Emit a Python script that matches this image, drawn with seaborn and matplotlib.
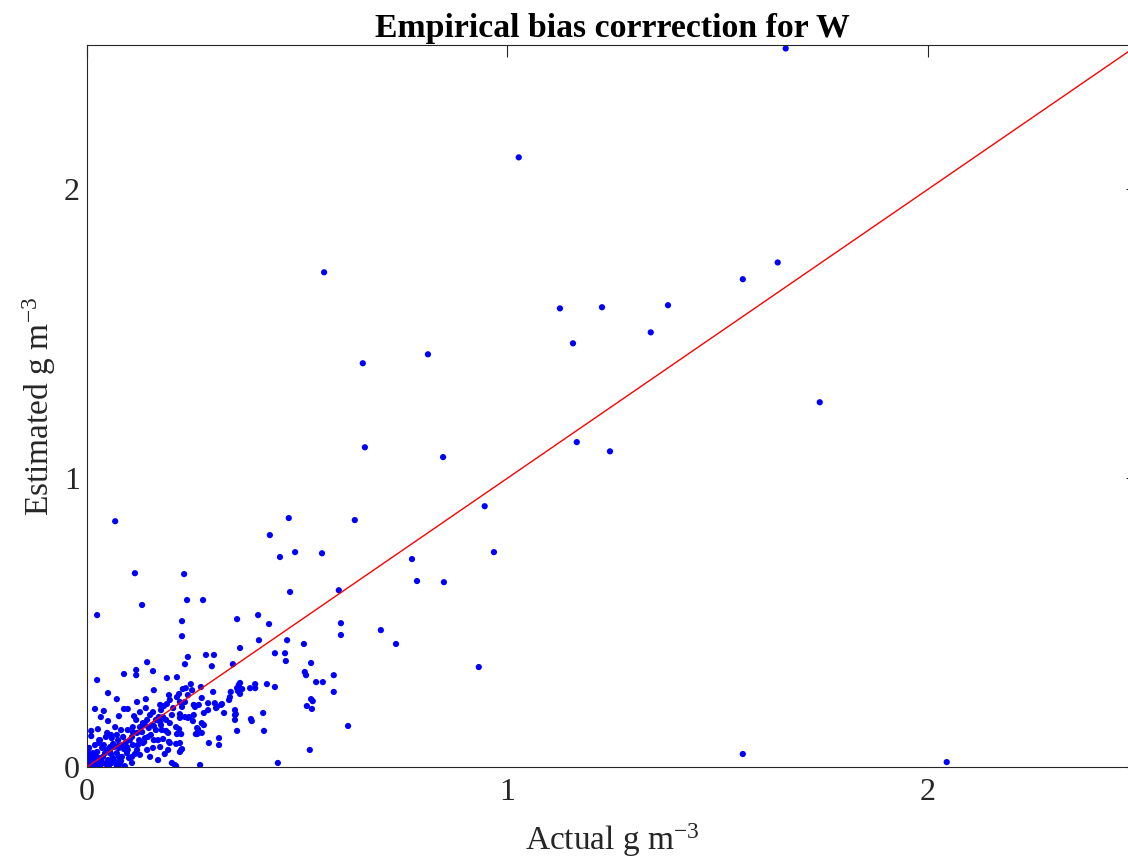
import matplotlib
matplotlib.use("Agg")
import matplotlib.pyplot as plt
import numpy as np
import pandas as pd
import seaborn as sns

# Actual vs. estimated W (g m^-3) for each sample
actual = [
    1.662, 1.027, 0.564, 1.643, 1.560, 1.125, 1.225, 1.382, 1.341, 1.156,
    0.811, 0.656, 1.743, 1.165, 0.661, 1.244, 0.847, 0.067, 0.480, 0.637,
    0.946, 0.435, 0.495, 0.459, 0.559, 0.968, 0.773, 0.114, 0.231, 0.785,
    0.849, 0.599, 0.483, 0.238, 0.276, 0.131, 0.024, 0.407, 0.357, 0.226,
    0.226, 0.433, 0.604, 0.604, 0.699, 0.735, 0.932, 0.621, 0.530, 0.454,
    1.560, 2.045,
    0.364, 0.409, 0.476, 0.240, 0.283, 0.302, 0.233, 0.143, 0.024, 0.088,
    0.117, 0.117, 0.157, 0.190, 0.214, 0.297, 0.347, 0.447, 0.471, 0.473,
    0.516, 0.533, 0.518, 0.521, 0.545, 0.561, 0.587, 0.587, 0.533, 0.537,
    0.523, 0.535, 0.447, 0.428, 0.400, 0.400, 0.388, 0.364, 0.361, 0.357,
    0.342, 0.340, 0.338, 0.321, 0.326, 0.352, 0.352, 0.352, 0.390, 0.392,
    0.419, 0.421, 0.357, 0.314, 0.314, 0.290, 0.269, 0.309, 0.300, 0.288,
    0.273, 0.271, 0.254, 0.257, 0.254, 0.262, 0.262, 0.273, 0.278, 0.252,
    0.240, 0.233, 0.221, 0.221, 0.226, 0.233, 0.221, 0.214, 0.195, 0.190,
    0.205, 0.183, 0.176, 0.171, 0.164, 0.159, 0.140, 0.119, 0.088, 0.097,
    0.071, 0.050, 0.019, 0.040, 0.033, 0.050, 0.076, 0.112, 0.117, 0.126,
    0.140, 0.157, 0.159, 0.176, 0.178, 0.188, 0.193, 0.181, 0.197, 0.214,
    0.212, 0.219, 0.221, 0.226, 0.212, 0.185, 0.169, 0.202, 0.212, 0.067,
    0.081, 0.097, 0.026, 0.010, 0.010, 0.029, 0.048, 0.071, 0.074, 0.059,
    0.055, 0.048, 0.036, 0.029, 0.014, 0.005, 0.107, 0.107, 0.078, 0.045,
    0.024, 0.007, 0.095, 0.119, 0.143, 0.133, 0.124, 0.119, 0.107, 0.095,
    0.071, 0.083, 0.062, 0.038, 0.029, 0.014, 0.001, 0.133, 0.143, 0.131,
    0.147, 0.152, 0.159, 0.138, 0.126, 0.109, 0.109, 0.086, 0.076, 0.064,
    0.097, 0.109, 0.126, 0.150, 0.174, 0.193, 0.157,
    0.002, 0.007, 0.012, 0.017, 0.019, 0.024, 0.031, 0.033, 0.040, 0.043,
    0.050, 0.052, 0.057, 0.062, 0.069, 0.071, 0.074, 0.081, 0.088, 0.090,
    0.093, 0.100, 0.102, 0.114, 0.121, 0.136, 0.145, 0.155, 0.169, 0.174,
    0.188, 0.202, 0.005, 0.002, 0.019, 0.031, 0.045, 0.057, 0.010, 0.021,
    0.038, 0.059, 0.076, 0.055, 0.003, 0.026, 0.083, 0.164, 0.181, 0.240,
    0.250, 0.197, 0.174, 0.150, 0.138,
    0.247, 0.228, 0.235, 0.369, 0.219, 0.304, 0.319, 0.359, 0.364, 0.266,
    0.278, 0.288, 0.307, 0.354, 0.243, 0.273, 0.197, 0.264, 0.259, 0.224,
    0.195, 0.224, 0.221, 0.209,
]
estimated = [
    2.488, 2.111, 1.713, 1.747, 1.689, 1.588, 1.592, 1.599, 1.505, 1.467,
    1.429, 1.398, 1.263, 1.125, 1.107, 1.093, 1.073, 0.851, 0.862, 0.855,
    0.903, 0.803, 0.744, 0.727, 0.740, 0.744, 0.720, 0.671, 0.668, 0.644,
    0.640, 0.612, 0.606, 0.578, 0.578, 0.561, 0.526, 0.526, 0.512, 0.505,
    0.453, 0.495, 0.498, 0.457, 0.474, 0.426, 0.346, 0.142, 0.059, 0.014,
    0.045, 0.017,
    0.412, 0.439, 0.439, 0.381, 0.388, 0.388, 0.356, 0.363, 0.301, 0.322,
    0.336, 0.318, 0.332, 0.308, 0.311, 0.349, 0.356, 0.394, 0.394, 0.367,
    0.426, 0.360, 0.329, 0.318, 0.294, 0.294, 0.318, 0.260, 0.235, 0.228,
    0.211, 0.201, 0.277, 0.287, 0.287, 0.273, 0.273, 0.291, 0.284, 0.273,
    0.260, 0.242, 0.232, 0.218, 0.187, 0.197, 0.180, 0.163, 0.166, 0.159,
    0.187, 0.125, 0.125, 0.100, 0.076, 0.083, 0.007, 0.208, 0.260, 0.221,
    0.239, 0.277, 0.215, 0.208, 0.180, 0.135, 0.114, 0.118, 0.145, 0.159,
    0.170, 0.173, 0.170, 0.183, 0.208, 0.225, 0.225, 0.242, 0.249, 0.218,
    0.204, 0.211, 0.197, 0.173, 0.163, 0.266, 0.235, 0.225, 0.201, 0.201,
    0.235, 0.256, 0.201, 0.194, 0.173, 0.159, 0.176, 0.176, 0.163, 0.190,
    0.204, 0.190, 0.142, 0.145, 0.128, 0.125, 0.118, 0.097, 0.083, 0.114,
    0.138, 0.131, 0.083, 0.062, 0.080, 0.045, 0.024, 0.014, 0.003, 0.138,
    0.128, 0.128, 0.131, 0.125, 0.107, 0.093, 0.118, 0.111, 0.093, 0.100,
    0.069, 0.059, 0.066, 0.083, 0.048, 0.042, 0.014, 0.035, 0.010, 0.010,
    0.014, 0.010, 0.048, 0.059, 0.059, 0.083, 0.093, 0.118, 0.104, 0.069,
    0.048, 0.035, 0.031, 0.035, 0.031, 0.028, 0.017, 0.152, 0.163, 0.121,
    0.135, 0.111, 0.093, 0.100, 0.138, 0.138, 0.121, 0.104, 0.066, 0.069,
    0.059, 0.076, 0.042, 0.035, 0.069, 0.059, 0.066,
    0.007, 0.035, 0.003, 0.021, 0.007, 0.052, 0.003, 0.021, 0.076, 0.048,
    0.024, 0.003, 0.045, 0.080, 0.017, 0.003, 0.073, 0.021, 0.062, 0.003,
    0.087, 0.031, 0.093, 0.045, 0.076, 0.087, 0.104, 0.145, 0.093, 0.156,
    0.163, 0.180, 0.066, 0.052, 0.076, 0.093, 0.104, 0.111, 0.024, 0.038,
    0.014, 0.014, 0.035, 0.052, 0.002, 0.003, 0.076, 0.128, 0.173, 0.249,
    0.266, 0.232, 0.215, 0.180, 0.145,
    0.287, 0.270, 0.273, 0.270, 0.253, 0.221, 0.215, 0.263, 0.253, 0.215,
    0.187, 0.197, 0.204, 0.183, 0.173, 0.152, 0.152, 0.131, 0.114, 0.114,
    0.087, 0.059, 0.052, 0.007,
]

# One-to-one reference line
line_x = [0.0, 2.5]
line_y = [0.0, 2.5]

x_ticks = [0, 1, 2]
y_ticks = [0, 1, 2]

df = pd.DataFrame({"actual": actual, "estimated": estimated})
ref = pd.DataFrame({"x": line_x, "y": line_y})

sns.set_theme(style="white")
plt.rcParams["font.family"] = ["Liberation Serif", "DejaVu Serif"]
plt.rcParams["mathtext.fontset"] = "custom"
plt.rcParams["mathtext.rm"] = "Liberation Serif"
plt.rcParams["mathtext.it"] = "Liberation Serif:italic"
plt.rcParams["mathtext.bf"] = "Liberation Serif:bold"

axis_grey = "#262626"

fig = plt.figure(figsize=(11.28, 8.67), dpi=100)
ax = fig.add_axes([87 / 1128, 100 / 867, 1051 / 1128, 722 / 867])

sns.scatterplot(data=df, x="actual", y="estimated", ax=ax, color="#0000ff",
                s=20, edgecolor="none", linewidth=0, zorder=2)
sns.lineplot(data=ref, x="x", y="y", ax=ax, color="#ff0000", linewidth=1.0,
             zorder=3)

ax.set_xlim(0, 2.5)
ax.set_ylim(0, 2.5)
ax.set_xticks(x_ticks)
ax.set_yticks(y_ticks)
ax.set_xticklabels([str(t) for t in x_ticks])
ax.set_yticklabels([str(t) for t in y_ticks])

ax.tick_params(axis="both", which="both", direction="in", length=8.5,
               width=0.8, colors=axis_grey, labelsize=23, top=True, right=True)
ax.tick_params(axis="y", pad=5)
ax.tick_params(axis="x", pad=8)
for side in ["left", "right", "top", "bottom"]:
    ax.spines[side].set_visible(True)
    ax.spines[side].set_color(axis_grey)
    ax.spines[side].set_linewidth(0.8)

ax.set_xlabel("Actual g m$^{-3}$", fontsize=24, color=axis_grey, labelpad=10)
ax.set_ylabel("Estimated g m$^{-3}$", fontsize=24, color=axis_grey, labelpad=4)
ax.set_title("Empirical bias corrrection for W", fontsize=24.3,
             fontweight="bold", color="black", pad=6)

fig.savefig("out.png", dpi=100)
